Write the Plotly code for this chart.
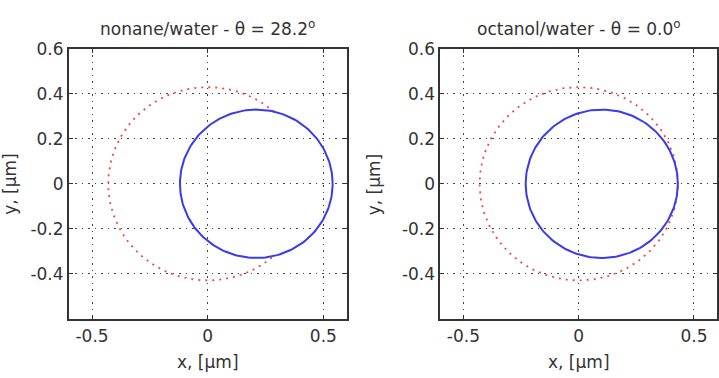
import numpy as np
import plotly.graph_objects as go

W, H = 719, 378

titles = ["nonane/water - θ = 28.2<sup>o</sup>", "octanol/water - θ = 0.0<sup>o</sup>"]
# blue circle (solid): center x, center y, radius
blue_cx = [0.21, 0.10]
blue_cy = [0.0, 0.0]
blue_r = [0.33, 0.33]
# red circle (dotted): center x, center y, radius, arc start/end angle (deg)
red_cx = [0.0, 0.0]
red_cy = [0.0, 0.0]
red_r = [0.43, 0.43]
red_a0 = [48.0, 0.0]
red_a1 = [312.0, 360.0]

xticks = [-0.5, 0, 0.5]
xticklabels = ["-0.5", "0", "0.5"]
yticks = [-0.4, -0.2, 0, 0.2, 0.4, 0.6]
yticklabels = ["-0.4", "-0.2", "0", "0.2", "0.4", "0.6"]

# pixel boxes
boxes = [(69, 347), (441, 718)]
ytop, ybot = 40, 317

fig = go.Figure()
font = dict(family="DejaVu Sans, sans-serif", size=17, color="#333333")
tfont = dict(family="DejaVu Sans, sans-serif", size=17, color="#333333")

for i in range(2):
    xa = "x" if i == 0 else "x2"
    ya = "y" if i == 0 else "y2"
    t = np.linspace(np.radians(red_a0[i]), np.radians(red_a1[i]), 200)
    fig.add_trace(go.Scatter(
        x=red_cx[i] + red_r[i] * np.cos(t), y=red_cy[i] + red_r[i] * np.sin(t),
        mode="lines", line=dict(color="#f04848", width=1.8, dash="2px,5px"),
        xaxis=xa, yaxis=ya, showlegend=False, hoverinfo="skip"))
    tb = np.linspace(0, 2 * np.pi, 200)
    fig.add_trace(go.Scatter(
        x=blue_cx[i] + blue_r[i] * np.cos(tb), y=blue_cy[i] + blue_r[i] * np.sin(tb),
        mode="lines", line=dict(color="#3a3aee", width=2),
        xaxis=xa, yaxis=ya, showlegend=False, hoverinfo="skip"))

ax_common = dict(showline=True, linecolor="#333333", linewidth=1.8, mirror="ticks",
                 ticks="inside", ticklen=4, tickcolor="#333333",
                 showgrid=True, gridcolor="#444444", gridwidth=1, griddash="1.5px,5px",
                 zeroline=False, tickfont=tfont, fixedrange=True)

layout = dict(width=W, height=H, margin=dict(l=0, r=0, t=0, b=0),
              plot_bgcolor="white", paper_bgcolor="white", showlegend=False)
ydom = [1 - ybot / H, 1 - ytop / H]
for i in range(2):
    sfx = "" if i == 0 else "2"
    layout["xaxis" + sfx] = dict(ax_common, domain=[boxes[i][0] / W, boxes[i][1] / W],
                                 range=[-0.6, 0.6], tickvals=xticks, ticktext=xticklabels,
                                 anchor="y" + sfx, ticklabelstandoff=1)
    layout["yaxis" + sfx] = dict(ax_common, domain=ydom, range=[-0.6, 0.6],
                                 tickvals=yticks, ticktext=yticklabels, anchor="x" + sfx)
fig.update_layout(**layout)

ylab_x = [10, 374]
for i in range(2):
    cx = (boxes[i][0] + boxes[i][1]) / 2
    fig.add_annotation(x=cx / W, y=1 - 18 / H, xref="paper", yref="paper",
                       text=titles[i], showarrow=False, font=font,
                       xanchor="center", yanchor="middle")
    fig.add_annotation(x=cx / W, y=1 - 362 / H, xref="paper", yref="paper",
                       text="x, [μm]", showarrow=False, font=tfont,
                       xanchor="center", yanchor="middle")
    fig.add_annotation(x=ylab_x[i] / W, y=1 - ((ytop + ybot) / 2) / H, xref="paper", yref="paper",
                       text="y, [μm]", showarrow=False, font=tfont, textangle=-90,
                       xanchor="center", yanchor="middle")

fig.write_html("out.html")
